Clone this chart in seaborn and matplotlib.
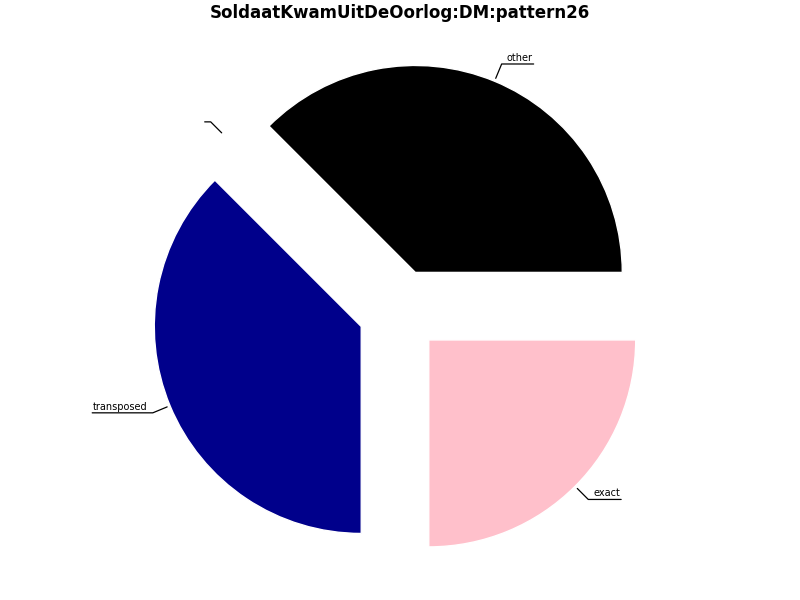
import numpy as np
import matplotlib
matplotlib.use("Agg")
import matplotlib.pyplot as plt
import seaborn as sns

# slice data (counterclockwise from 0 deg)
labels = ["other", "", "transposed", "exact"]
values = [37.5, 0.0, 37.5, 25.0]
colors = ["#000000", "#ffffff", "#00008b", "#ffc0cb"]
title = "SoldaatKwamUitDeOorlog:DM:pattern26"

sns.set_style("white")
plt.rcParams['font.family'] = ['DejaVu Sans']
plt.rcParams['text.color'] = 'black'

fig = plt.figure(figsize=(8, 6), dpi=100)
ax = fig.add_axes([0, 0, 1, 1])
wedges, _ = ax.pie(values, colors=colors, explode=[0.2] * len(values),
                   startangle=0, counterclock=True, radius=1.0)
ax.set_xlim(-1.93, 1.935)
ax.set_ylim(-1.398, 1.501)
ax.axis("off")

fig.text(0.5, 1 - 12.5 / 600, title, ha="center", va="center",
         fontsize=12, fontweight="bold", color="black")

fig.canvas.draw()
renderer = fig.canvas.get_renderer()
px = ax.transData.transform((1, 0))[0] - ax.transData.transform((0, 0))[0]

for w, lab in zip(wedges, labels):
    ang = np.deg2rad((w.theta1 + w.theta2) / 2)
    c, s = np.cos(ang), np.sin(ang)
    x0, y0 = 1.215 * c, 1.215 * s
    xk, yk = 1.29 * c, 1.29 * s
    side = 1 if c >= 0 else -1
    t = ax.text(xk + side * 5 / px, yk + 1 / px, lab, fontsize=7,
                color="black",
                ha="left" if side > 0 else "right", va="bottom")
    tw = t.get_window_extent(renderer).width if lab else 0
    ax.plot([x0, xk, xk + side * (tw + 6) / px], [y0, yk, yk],
            color="black", lw=0.9)

fig.savefig("out.png", dpi=100)
